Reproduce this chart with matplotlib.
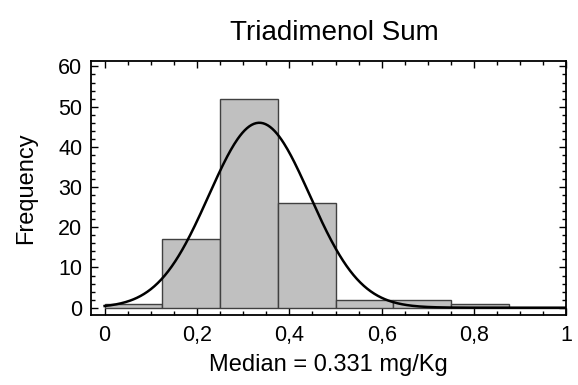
import numpy as np
import matplotlib.pyplot as plt
from matplotlib.ticker import MultipleLocator, FuncFormatter

plt.rcParams['font.family'] = ['Liberation Sans', 'DejaVu Sans']

# histogram bins (mg/Kg) and counts
bin_edges = [0, 0.125, 0.25, 0.375, 0.5, 0.625, 0.75, 0.875, 1.0]
counts = [1, 17, 52, 26, 2, 2, 1, 0]

# fitted normal curve parameters
fit_mean = 0.335
fit_sd = 0.1095
n_total = sum(counts)

fig = plt.figure(figsize=(5.78, 3.85), dpi=100)
ax = fig.add_axes([0.157, 0.182, 0.823, 0.660])

widths = np.diff(bin_edges)
ax.bar(bin_edges[:-1], counts, width=widths, align='edge',
       color='#c0c0c0', edgecolor='#404040', linewidth=1.0, zorder=2)

xs = np.linspace(0, 1, 400)
bw = widths[0]
ys = n_total * bw / (fit_sd * np.sqrt(2 * np.pi)) * np.exp(-0.5 * ((xs - fit_mean) / fit_sd) ** 2)
ax.plot(xs, ys, color='black', linewidth=1.8, zorder=3)

ax.set_xlim(-0.03, 1.0)
ax.set_ylim(-1.8, 61.4)
ax.xaxis.set_major_locator(MultipleLocator(0.2))
ax.xaxis.set_minor_locator(MultipleLocator(0.05))
ax.yaxis.set_major_locator(MultipleLocator(10))
ax.yaxis.set_minor_locator(MultipleLocator(2))

def fmt(v, pos):
    s = ('%.1f' % v).rstrip('0').rstrip('.')
    return s.replace('.', ',')

ax.xaxis.set_major_formatter(FuncFormatter(fmt))
ax.tick_params(which='both', direction='in', top=True, right=True, labelsize=15.5, width=1.0)
ax.tick_params(which='major', length=5)
ax.tick_params(which='minor', length=3)
ax.tick_params(axis='x', pad=7)
ax.tick_params(axis='y', pad=6)
for sp in ax.spines.values():
    sp.set_linewidth(1.3)

ax.set_xlabel('Median = 0.331 mg/Kg', fontsize=17, labelpad=6)
ax.set_ylabel('Frequency', fontsize=17, labelpad=15)
ax.set_title('Triadimenol Sum', fontsize=20, pad=15, x=0.513)

fig.savefig('out.png', dpi=100)
